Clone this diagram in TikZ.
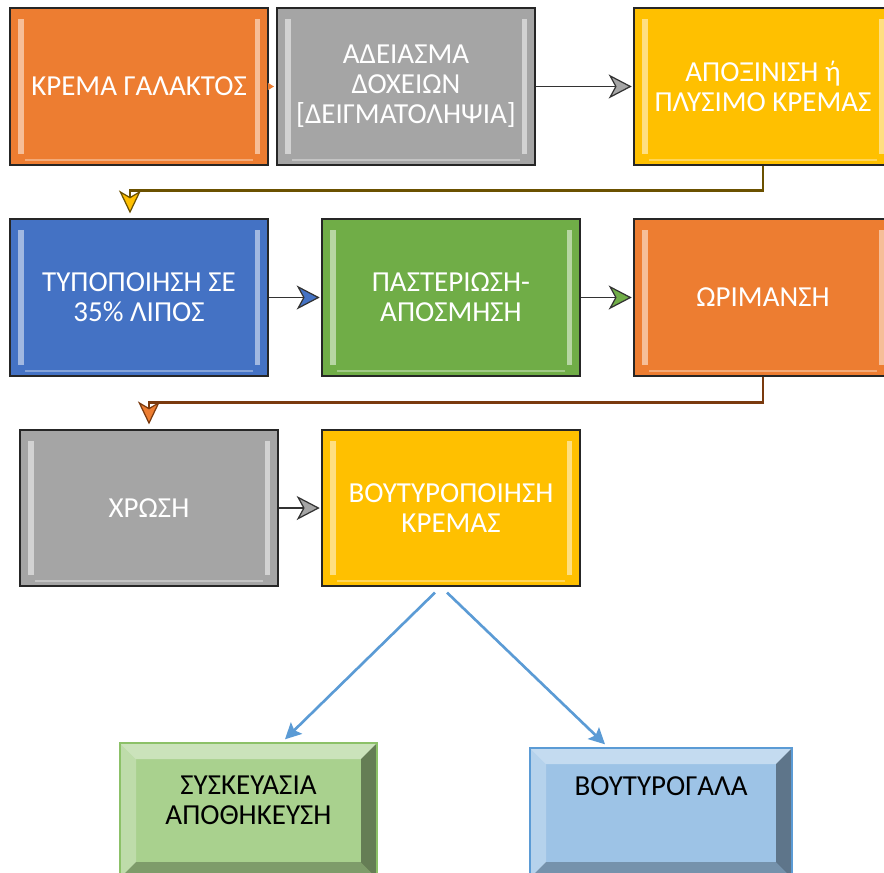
\documentclass[tikz,border=0pt]{standalone}
\usepackage{fontspec}
\setmainfont{Carlito}
\usetikzlibrary{positioning,arrows.meta}

\definecolor{orangeA}{HTML}{ED7D31}
\definecolor{grayA}{HTML}{A5A5A5}
\definecolor{goldA}{HTML}{FFC000}
\definecolor{blueA}{HTML}{4472C4}
\definecolor{greenA}{HTML}{70AD47}
\definecolor{goldD}{HTML}{6B5100}
\definecolor{brownD}{HTML}{7A3A0E}
\definecolor{splitC}{HTML}{5B9BD5}
\definecolor{greenB}{HTML}{A9D18E}
\definecolor{greenC}{HTML}{8CC168}
\definecolor{blueB}{HTML}{9DC3E6}
\definecolor{blueC}{HTML}{5B9BD5}

\tikzset{
  stage/.style={draw=black!85, line width=0.6pt, rectangle, minimum width=5.16cm, minimum height=3.14cm,
    inner sep=0pt, align=center, text=white, font=\fontsize{16.5}{17}\selectfont,
    path picture={
      \fill[white, opacity=.5] ([xshift=0.16cm,yshift=-0.22cm]path picture bounding box.north west)
        rectangle ([xshift=0.27cm,yshift=0.22cm]path picture bounding box.south west);
      \fill[white, opacity=.5] ([xshift=-0.16cm,yshift=-0.22cm]path picture bounding box.north east)
        rectangle ([xshift=-0.27cm,yshift=0.22cm]path picture bounding box.south east);
      \draw[white, opacity=.35, line width=0.8pt] ([xshift=0.3cm,yshift=0.1cm]path picture bounding box.south west)
        -- ([xshift=-0.3cm,yshift=0.1cm]path picture bounding box.south east);
    }},
  bevel/.style={rectangle, line width=0.8pt, inner sep=0pt, align=center, text=black,
    font=\fontsize{16.5}{17}\selectfont,
    path picture={
      \def\bb{path picture bounding box}
      \fill[white, opacity=.4] (\bb.north west) -- (\bb.north east) -- ([shift={(-0.32,-0.32)}]\bb.north east)
        -- ([shift={(0.32,-0.32)}]\bb.north west) -- cycle;
      \fill[white, opacity=.25] (\bb.north west) -- (\bb.south west) -- ([shift={(0.32,0.32)}]\bb.south west)
        -- ([shift={(0.32,-0.32)}]\bb.north west) -- cycle;
      \fill[black, opacity=.4] (\bb.north east) -- (\bb.south east) -- ([shift={(-0.32,0.32)}]\bb.south east)
        -- ([shift={(-0.32,-0.32)}]\bb.north east) -- cycle;
      \fill[black, opacity=.25] (\bb.south west) -- (\bb.south east) -- ([shift={(-0.32,0.32)}]\bb.south east)
        -- ([shift={(0.32,0.32)}]\bb.south west) -- cycle;
    }},
  flow/.style={draw=black!80, line width=1.1pt, shorten >=1pt,
    -{Stealth[length=0.46cm, width=0.48cm, inset=0.13cm, line width=0.7pt, fill=#1]}},
  elbow/.style={line width=1.6pt, shorten >=0.1cm,
    -{Stealth[length=0.46cm, width=0.44cm, inset=0.13cm, line width=0.7pt, fill=#1]}},
  split/.style={draw=splitC, line width=1.5pt, -{Stealth[length=0.32cm, width=0.32cm, inset=0.06cm]}}
}

\begin{document}
\begin{tikzpicture}
        \useasboundingbox (0,0) rectangle (17.68,-17.44);
        \clip (0,0) rectangle (17.68,-17.44);

        \node (cream) [stage, fill=orangeA] at (2.78,-1.73) {ΚΡΕΜΑ ΓΑΛΑΚΤΟΣ};
        \node (empty) [stage, fill=grayA, right of=cream, node distance=5.34cm] {ΑΔΕΙΑΣΜΑ\\ΔΟΧΕΙΩΝ\\{[}ΔΕΙΓΜΑΤΟΛΗΨΙΑ{]}};
        \node (skim) [stage, fill=goldA, right of=empty, node distance=7.14cm] {ΑΠΟΞΙΝΙΣΗ ή\\ΠΛΥΣΙΜΟ ΚΡΕΜΑΣ};
        \node (standard) [stage, fill=blueA, below of=cream, node distance=4.22cm] {ΤΥΠΟΠΟΙΗΣΗ ΣΕ\\35\% ΛΙΠΟΣ};
        \node (pasteur) [stage, fill=greenA, right of=standard, node distance=6.24cm] {ΠΑΣΤΕΡΙΩΣΗ-\\ΑΠΟΣΜΗΣΗ};
        \node (ripen) [stage, fill=orangeA, right of=pasteur, node distance=6.24cm] {ΩΡΙΜΑΝΣΗ};
        \node (color) [stage, fill=grayA, minimum height=3.12cm, below of=standard, node distance=4.21cm, xshift=0.2cm] {ΧΡΩΣΗ};
        \node (churn) [stage, fill=goldA, minimum height=3.12cm, right of=color, node distance=6.04cm] {ΒΟΥΤΥΡΟΠΟΙΗΣΗ\\ΚΡΕΜΑΣ};
        \node (pack) [bevel, fill=greenB, draw=greenC, minimum width=5.14cm, minimum height=2.7cm,
          text height=0.7cm, text depth=0.14cm] at (4.97,-16.21) {ΣΥΣΚΕΥΑΣΙΑ\\ΑΠΟΘΗΚΕΥΣΗ};
        \node (buttermilk) [bevel, fill=blueB, draw=blueC, minimum width=5.24cm, minimum height=2.6cm,
          text height=0.35cm, text depth=1.05cm] at (13.22,-16.26) {ΒΟΥΤΥΡΟΓΑΛΑ};

        \draw[draw=orangeA, line width=0.6pt, shorten >=0.05cm, -{Triangle[length=0.12cm, width=0.14cm]}] (cream) -- (empty);
        \draw[flow=grayA] (empty) -- (skim);
        \draw[elbow=goldA, draw=goldD] (skim.south) |- ([xshift=-0.18cm,yshift=0.56cm]standard.north) -- ([xshift=-0.18cm]standard.north);
        \draw[flow=blueA] (standard) -- (pasteur);
        \draw[flow=greenA] (pasteur) -- (ripen);
        \draw[elbow=orangeA, draw=brownD] (ripen.south) |- ([yshift=0.54cm]color.north) -- (color.north);
        \draw[flow=grayA] (color) -- (churn);
        \draw[split] ([xshift=-0.32cm,yshift=-0.12cm]churn.south) -- ([xshift=0.73cm,yshift=0.06cm]pack.north);
        \draw[split] ([xshift=-0.08cm,yshift=-0.12cm]churn.south) -- ([xshift=-1.12cm,yshift=0.06cm]buttermilk.north);
    \end{tikzpicture}
\end{document}
